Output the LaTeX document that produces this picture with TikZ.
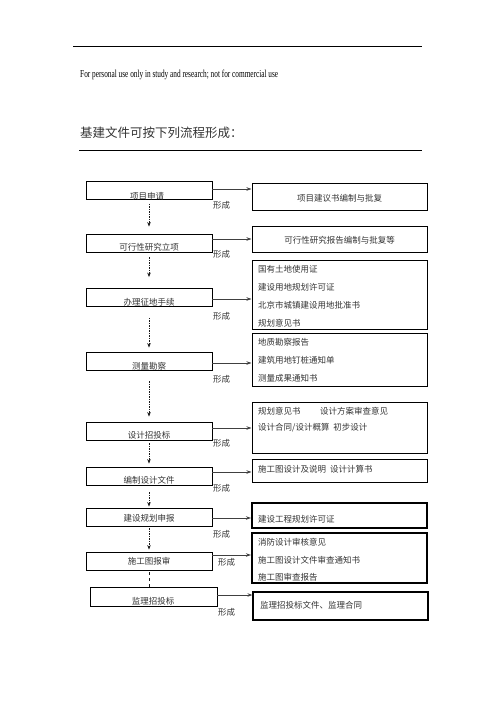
\documentclass[tikz,border=0pt]{standalone}
\usepackage{fontspec}
\setmainfont{Liberation Serif}
\newfontfamily\cjk{Noto Sans CJK SC}
\usetikzlibrary{arrows.meta}
\begin{document}
\begin{tikzpicture}[x=1pt,y=-1pt,
  lbox/.style={draw=black, line width=0.8pt, minimum width=126pt, minimum height=18pt, inner sep=0pt},
  rbox/.style={draw=black, line width=1pt, minimum width=175pt, inner sep=0pt},
  hbox/.style={draw=black, line width=2pt, minimum width=175pt, inner sep=0pt},
  txt/.style={font=\cjk\fontsize{8.5}{10}\selectfont, text=black!80, inner sep=0pt},
  wtxt/.style={txt, anchor=west},
  flow/.style={draw=black!75, line width=0.9pt, -{Stealth[length=5pt,width=3.5pt]}},
  down/.style={draw=black!90, line width=1pt, dash pattern=on 1.5pt off 1pt, -{Stealth[length=4.5pt,width=3.5pt]}},
  downplain/.style={draw=black!90, line width=1pt, dash pattern=on 3pt off 3pt}
]
\useasboundingbox (0,0) rectangle (496,702);
% header rules
\coordinate (h1a) at (73,46); \coordinate (h1b) at (422,46);
\coordinate (h2a) at (79,150); \coordinate (h2b) at (422,150);
\draw[line width=0.9pt] (h1a) -- (h1b);
\draw[line width=0.9pt] (h2a) -- (h2b);
\node[anchor=west, inner sep=0pt] (note) at (80,75) {\resizebox{198pt}{7.5pt}{For personal use only in study and research; not for commercial use}};
\node[anchor=west, inner sep=0pt, font=\cjk\fontsize{12.5}{14}\selectfont, text=black!80] (title) at (80,133) {基建文件可按下列流程形成：};

% left boxes
\node[lbox] (L1) at (149,190.5) {};
\node[lbox] (L2) at (149,243) {};
\node[lbox] (L3) at (149,297.5) {};
\node[lbox] (L4) at (149,361) {};
\node[lbox] (L5) at (149,431) {};
\node[lbox] (L6) at (149,476) {};
\node[lbox] (L7) at (149,517) {};
\node[lbox] (L8) at (149,561) {};
\node[lbox, minimum width=127pt, minimum height=19pt] (L9) at (153.5,596.5) {};
\node[txt] (t1) at (147,196) {项目申请};
\node[txt] (t2) at (149,247) {可行性研究立项};
\node[txt] (t3) at (149,302) {办理征地手续};
\node[txt] (t4) at (149,366) {测量勘察};
\node[txt] (t5) at (149,435.5) {设计招投标};
\node[txt] (t6) at (149,480.5) {编制设计文件};
\node[txt] (t7) at (149,518) {建设规划申报};
\node[txt] (t8) at (149,561) {施工图报审};
\node[txt] (t9) at (153,601) {监理招投标};

% right boxes
\node[rbox, minimum height=27pt] (R1) at (339.5,196.5) {};
\node[rbox, minimum height=26pt] (R2) at (339.5,239) {};
\node[rbox, minimum height=69pt] (R3) at (339.5,294.5) {};
\node[rbox, minimum height=53pt] (R4) at (339.5,359.5) {};
\node[rbox, minimum height=51pt] (R5) at (339.5,427.5) {};
\node[rbox, minimum height=23pt] (R6) at (339.5,470.5) {};
\node[hbox, minimum height=25pt] (R7) at (339.5,515.5) {};
\node[hbox, minimum height=50pt] (R8) at (339.5,558) {};
\node[rbox, minimum height=28pt, line width=1.2pt] (R9) at (340.5,606) {};

\node[txt] (r1) at (339.5,198) {项目建议书编制与批复};
\node[txt] (r2) at (339.5,240) {可行性研究报告编制与批复等};
\node[wtxt] (r3a) at (258,269) {国有土地使用证};
\node[wtxt] (r3b) at (258,287) {建设用地规划许可证};
\node[wtxt] (r3c) at (258,305) {北京市城镇建设用地批准书};
\node[wtxt] (r3d) at (258,323) {规划意见书};
\node[wtxt] (r4a) at (258,342) {地质勘察报告};
\node[wtxt] (r4b) at (258,360) {建筑用地钉桩通知单};
\node[wtxt] (r4c) at (258,378) {测量成果通知书};
\node[wtxt] (r5a) at (258,411) {规划意见书};
\node[wtxt] (r5b) at (320,411) {设计方案审查意见};
\node[wtxt] (r5c) at (258,428) {设计合同/设计概算\ \ 初步设计};
\node[wtxt] (r6) at (258,469) {施工图设计及说明\ \ 设计计算书};
\node[wtxt] (r7) at (258,519) {建设工程规划许可证};
\node[wtxt] (r8a) at (258,542) {消防设计审核意见};
\node[wtxt] (r8b) at (258,560) {施工图设计文件审查通知书};
\node[wtxt] (r8c) at (258,577) {施工图审查报告};
\node[wtxt] (r9) at (260,605) {监理招投标文件、监理合同};

% "形成" labels
\node[wtxt] (f1) at (213,205) {形成};
\node[wtxt] (f2) at (213,254) {形成};
\node[wtxt] (f3) at (213,316) {形成};
\node[wtxt] (f4) at (213,379) {形成};
\node[wtxt] (f5) at (213,443) {形成};
\node[wtxt] (f6) at (213,488) {形成};
\node[wtxt] (f7) at (213,534) {形成};
\node[wtxt] (f8) at (218,562) {形成};
\node[wtxt] (f9) at (218,612) {形成};

% horizontal arrows
\draw[flow] ([yshift=1.5pt]L1.east) coordinate (a1) -- (a1 -| R1.west);
\draw[flow] ([yshift=4pt]L2.east) coordinate (a2) -- (a2 -| R2.west);
\draw[flow] ([yshift=-1.5pt]L3.east) coordinate (a3) -- (a3 -| R3.west);
\draw[flow] ([yshift=-2pt]L4.east) coordinate (a4) -- (a4 -| R4.west);
\draw[flow] ([yshift=3pt]L5.east) coordinate (a5) -- (a5 -| R5.west);
\draw[flow] ([yshift=4pt]L6.east) coordinate (a6) -- (a6 -| R6.west);
\draw[flow] ([yshift=-1pt]L7.east) coordinate (a7) -- (a7 -| R7.west);
\draw[flow] ([yshift=6pt]L8.east) coordinate (a8) -- (a8 -| R8.west);
\draw[flow] ([yshift=1.5pt]L9.east) coordinate (a9) -- (a9 -| R9.west);

% vertical dashed arrows
\draw[down, shorten <=4pt, shorten >=7pt] (L1.south) -- (L2.north);
\draw[down, shorten <=5pt, shorten >=11pt] (L2.south) -- (L3.north);
\draw[down, shorten <=11pt, shorten >=4pt] (L3.south) -- (L4.north);
\draw[down, shorten <=11pt, shorten >=5pt] (L4.south) -- (L5.north);
\draw[down, shorten <=3pt, shorten >=3pt] (L5.south) -- (L6.north);
\draw[down, shorten <=7pt, shorten >=1pt] (L6.south) -- (L7.north);
\draw[down, shorten <=2pt, shorten >=2pt] (L7.south) -- (L8.north);
\draw[downplain, shorten <=2pt] (L8.south) -- (L8.south |- L9.north);
\end{tikzpicture}
\end{document}
